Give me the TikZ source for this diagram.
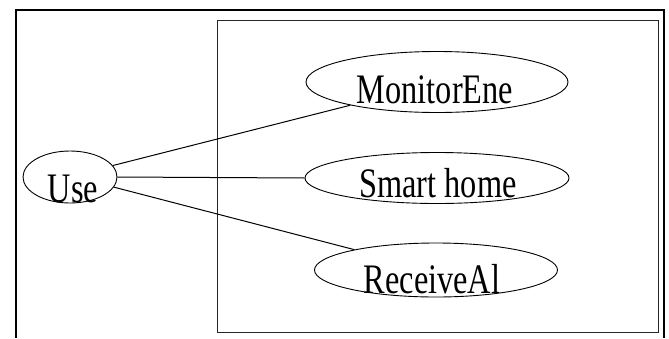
\documentclass[tikz,border=0pt]{standalone}
\usepackage{fontspec}
\setmainfont{Liberation Serif}
\usetikzlibrary{shapes.geometric}
\newcommand\narrowtext[1]{\scalebox{0.77}[1]{#1}}
\tikzset{
  usecase/.style={draw, ellipse, inner sep=0pt, line width=0.9pt},
  lbl/.style={anchor=base, inner sep=0pt, font=\fontsize{42}{42}\selectfont},
  assoc/.style={line width=1pt},
  frame/.style={line width=1.4pt},
  boundary/.style={draw=black!85, line width=1pt}
}
\begin{document}
\begin{tikzpicture}[x=1pt, y=-1pt]
  \useasboundingbox (0,0) rectangle (669,338);
  % outer frame (open at the bottom)
  \draw[frame] (16,338) -- (16,10) -- (664,10) -- (664,338);
  % system boundary
  \draw[boundary] (217,20) rectangle (658,332);

  % actor ellipse
  \node[usecase, minimum width=94pt, minimum height=52pt] (use) at (70,177) {};
  \node[lbl] (useT) at (73,202) {\narrowtext{Use}};

  % use cases
  \node[usecase, minimum width=262pt, minimum height=61pt] (mon) at (437,82) {};
  \node[lbl] (monT) at (435,103) {\narrowtext{MonitorEne}};

  \node[usecase, minimum width=264pt, minimum height=51pt] (smart) at (437,178) {};
  \node[lbl] (smartT) at (438,197) {\narrowtext{Smart home}};

  \node[usecase, minimum width=243pt, minimum height=54pt] (rec) at (436,270) {};
  \node[lbl] (recT) at (432,293) {\narrowtext{ReceiveAl}};

  % associations
  \draw[assoc] (use.15) -- (mon.195);
  \draw[assoc] (use.0) -- (smart.180);
  \draw[assoc] (use.-13) -- (rec.166);
\end{tikzpicture}
\end{document}
